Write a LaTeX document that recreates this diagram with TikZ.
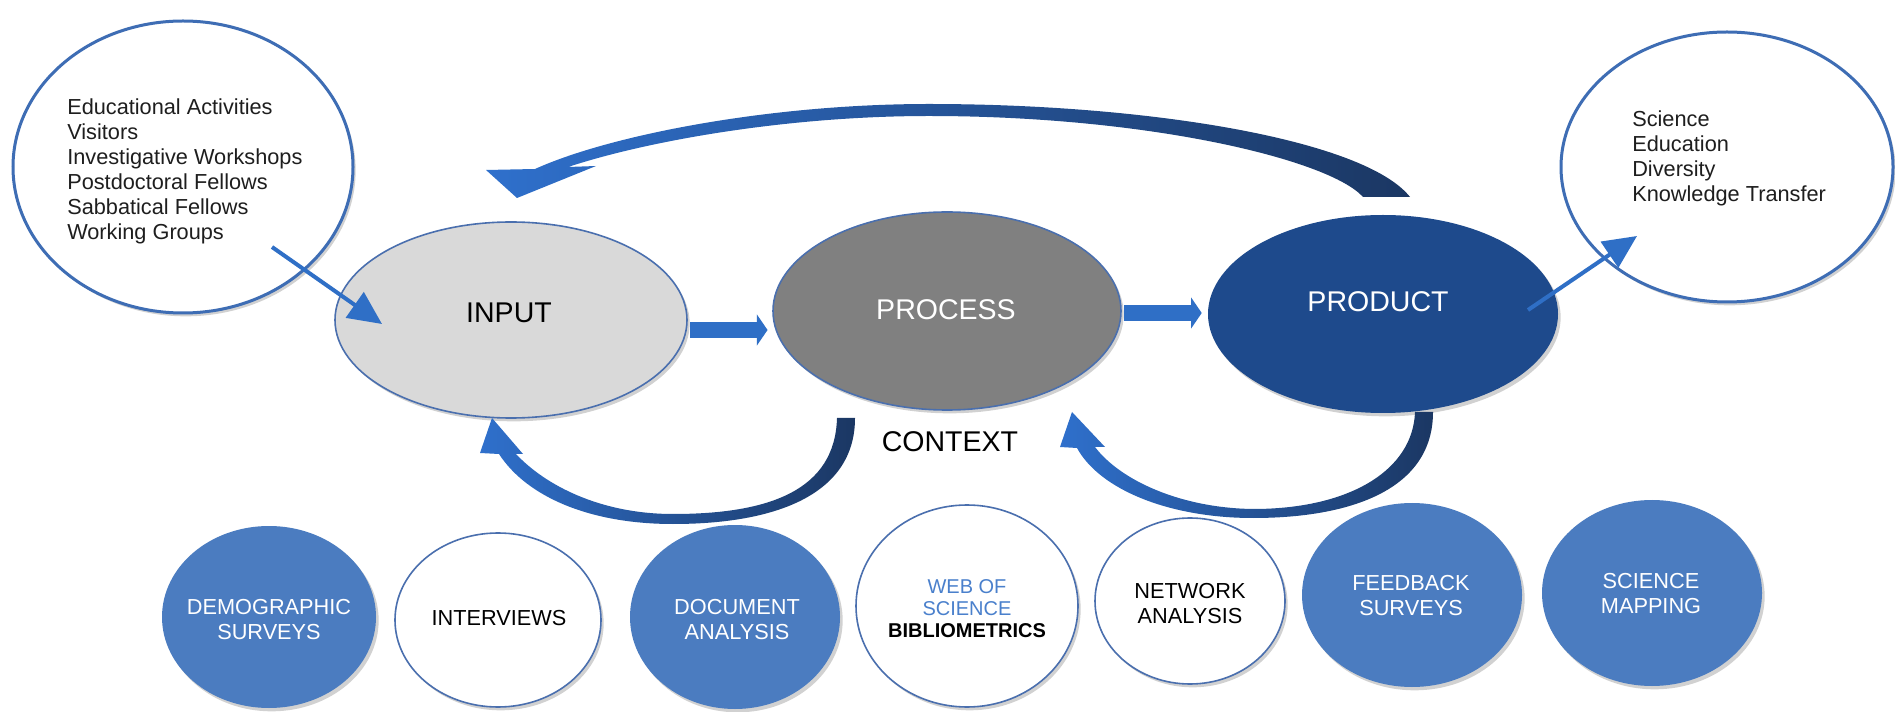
\documentclass[tikz,border=0pt]{standalone}
\usepackage{fontspec}
\setmainfont{Liberation Sans}
\usetikzlibrary{shapes.geometric,arrows.meta,shadows}
\definecolor{calloutblue}{HTML}{3E6DB4}
\definecolor{inputgray}{HTML}{D9D9D9}
\definecolor{processgray}{HTML}{808080}
\definecolor{productblue}{HTML}{1E4A8C}
\definecolor{methodblue}{HTML}{4B7CC0}
\definecolor{rimblue}{HTML}{4A6FAE}
\definecolor{flowblue}{HTML}{2F6FC6}
\definecolor{arcblue}{HTML}{2F70CC}
\definecolor{arcnavy}{HTML}{1B3763}
\definecolor{wosblue}{HTML}{4A80CC}
\definecolor{textdark}{HTML}{1E1E1E}
\tikzset{
  softshadow/.style={drop shadow={shadow xshift=2pt,shadow yshift=-2.5pt,opacity=0.18,fill=black}},
  bubble/.style={ellipse,inner sep=0pt,softshadow},
  callout/.style={bubble,draw=calloutblue,line width=2.25pt,fill=white},
  stage/.style={bubble,draw=rimblue,line width=1.2pt},
  method/.style={bubble,fill=methodblue},
  openmethod/.style={bubble,fill=white,draw=rimblue,line width=1.2pt},
  calltext/.style={font=\fontsize{16.3}{18.75}\selectfont,text=textdark,align=left,inner sep=0pt},
  stagetext/.style={font=\fontsize{21.4}{24}\selectfont,inner sep=0pt},
  methodtext/.style={font=\fontsize{16.3}{18.75}\selectfont,align=center,inner sep=0pt},
  flowarrow/.style={draw=flowblue,line width=11.5pt,-{Triangle[length=8pt,width=23pt]}},
  thinarrow/.style={draw=flowblue,line width=3pt,-{Triangle[length=25pt,width=23pt]}},
}
\begin{document}
\begin{tikzpicture}[x=0.75pt,y=-0.75pt]
\useasboundingbox (0,0) rectangle (1895,712);
\fill[white] (0,0) rectangle (1895,712);

% callouts
\node[callout,minimum width=255pt,minimum height=219pt] (lcall) at (183,167) {};
\node[callout,minimum width=249pt,minimum height=202.5pt] (rcall) at (1727,167) {};
\node[calltext,anchor=base west] (lctext) at (67,240)
  {Educational Activities\\Visitors\\Investigative Workshops\\Postdoctoral Fellows\\Sabbatical Fellows\\Working Groups};
\node[calltext,anchor=base west] (rctext) at (1632,202)
  {Science\\Education\\Diversity\\Knowledge Transfer};

% top curved arrow (product back to input)
\shade[left color=arcblue,right color=arcnavy]
  (517,198) -- (486,170) -- (535,169)
  .. controls (610,135) and (770,104) .. (929,104)
  .. controls (1150,104) and (1365,140) .. (1410,197)
  -- (1363,197)
  .. controls (1330,160) and (1150,116) .. (929,116)
  .. controls (790,116) and (650,140) .. (568,167)
  -- (596,166) -- cycle;

% stages
\node[stage,fill=inputgray,minimum width=264pt,minimum height=147pt] (input) at (511,320) {};
\node[stage,fill=processgray,minimum width=261pt,minimum height=148.5pt] (process) at (947,311) {};
\node[bubble,fill=productblue,minimum width=262.5pt,minimum height=148.5pt] (product) at (1383,314) {};
\node[stagetext,text=black] (inputlbl) at (509,313) {INPUT};
\node[stagetext,text=white] (processlbl) at (946,310) {PROCESS};
\node[stagetext,text=white] (productlbl) at (1378,302) {PRODUCT};
\node[stagetext,text=black] (contextlbl) at (950,442) {CONTEXT};

% flow arrows
\draw[flowarrow] ([xshift=2pt,yshift=-7.5pt]input.east) -- ([xshift=-3.5pt,yshift=-14.25pt]process.west);
\draw[flowarrow] ([xshift=1.5pt,yshift=-1.5pt]process.east) -- ([xshift=-4.5pt,yshift=0.75pt]product.west);

% callout connectors
\coordinate (lcfrom) at (272,247);
\coordinate (lcto) at (382,324);
\draw[thinarrow] (lcfrom) -- (lcto);
\coordinate (rcfrom) at (1528,310);
\coordinate (rcto) at (1637,236);
\draw[thinarrow] (rcfrom) -- (rcto);

% bottom curved arrows (context)
\shade[left color=arcblue,right color=arcnavy]
  (492,418) -- (523,454) -- (516,454)
  .. controls (545,485) and (600,514) .. (673,514)
  .. controls (770,514) and (835,490) .. (837,418)
  -- (855,418)
  .. controls (855,495) and (775,524) .. (673,524)
  .. controls (590,524) and (527,497) .. (499,454)
  -- (480,453) -- cycle;
\shade[left color=arcblue,right color=arcnavy]
  (1072,412) -- (1105,447) -- (1095,447)
  .. controls (1120,480) and (1180,508) .. (1253,509)
  .. controls (1350,509) and (1413,470) .. (1415,412)
  -- (1433,412)
  .. controls (1433,490) and (1350,518) .. (1253,518)
  .. controls (1170,518) and (1100,490) .. (1077,448)
  -- (1060,447) -- cycle;

% methods
\node[method,minimum width=160.5pt,minimum height=136.5pt] (demo) at (269,617) {};
\node[openmethod,minimum width=154.5pt,minimum height=130.5pt] (interv) at (498,620) {};
\node[method,minimum width=157.5pt,minimum height=138pt] (docan) at (735,617) {};
\node[openmethod,minimum width=166.5pt,minimum height=151.5pt] (wos) at (967,606) {};
\node[openmethod,minimum width=142.5pt,minimum height=124.5pt] (netan) at (1190,601) {};
\node[method,minimum width=165pt,minimum height=138pt] (feedback) at (1412,595) {};
\node[method,minimum width=165pt,minimum height=139.5pt] (scimap) at (1652,593) {};

\node[methodtext,text=white] (demolbl) at (269,619.5) {DEMOGRAPHIC\\SURVEYS};
\node[methodtext,text=black] (intervlbl) at (499,618) {INTERVIEWS};
\node[methodtext,text=white] (docanlbl) at (737,619.5) {DOCUMENT\\ANALYSIS};
\node[methodtext,font=\fontsize{15}{16.5}\selectfont] (woslbl) at (967,609)
  {\textcolor{wosblue}{WEB OF}\\\textcolor{wosblue}{SCIENCE}\\\textbf{BIBLIOMETRICS}};
\node[methodtext,text=black] (netanlbl) at (1190,603.5) {NETWORK\\ANALYSIS};
\node[methodtext,text=white] (feedbacklbl) at (1411,596) {FEEDBACK\\SURVEYS};
\node[methodtext,text=white] (scimaplbl) at (1651,594) {SCIENCE\\MAPPING};
\end{tikzpicture}
\end{document}
